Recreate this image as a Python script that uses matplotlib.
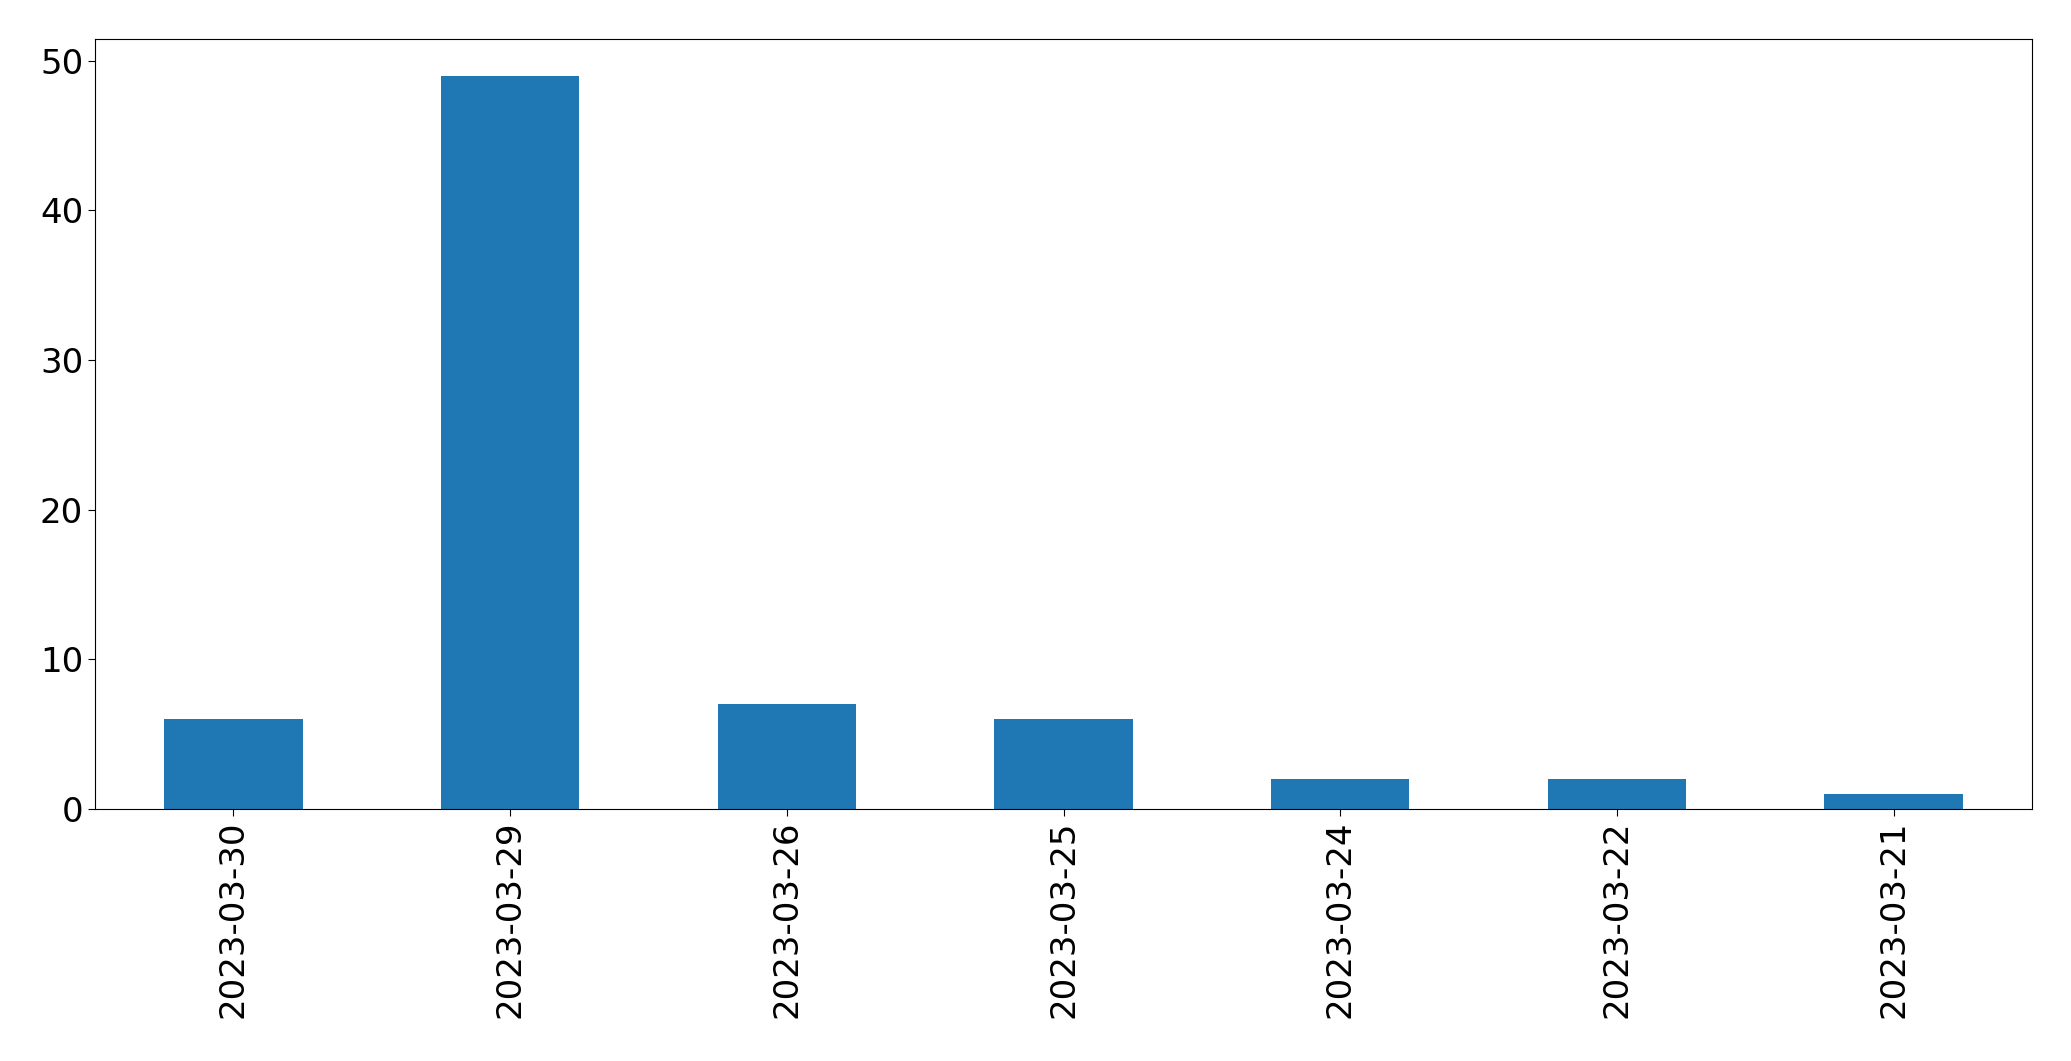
import pandas as pd
import matplotlib
matplotlib.use('Agg')
import matplotlib.pyplot as plt

dates = ['2023-03-30', '2023-03-29', '2023-03-26', '2023-03-25',
         '2023-03-24', '2023-03-22', '2023-03-21']
counts = [6, 49, 7, 6, 2, 2, 1]

s = pd.Series(counts, index=dates)

fig = plt.figure(figsize=(20.71, 10.61), dpi=100)
ax = fig.add_axes([95 / 2071, 1 - 809 / 1061, (2032 - 95) / 2071, (809 - 39) / 1061])
s.plot(kind='bar', ax=ax, color='#1f77b4')
ax.tick_params(labelsize=24.5, length=5)
ax.set_xticklabels(dates, rotation=90)
fig.savefig('out.png', dpi=100)
